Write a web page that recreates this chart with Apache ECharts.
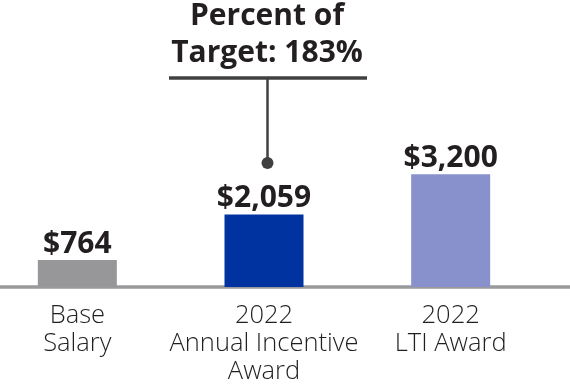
<!DOCTYPE html>
<html><head><meta charset="utf-8">
<script src="https://cdn.jsdelivr.net/npm/echarts@6/dist/echarts.min.js"></script>
<style>html,body{margin:0;padding:0;background:#fff}#c{width:570px;height:385px}</style>
</head><body><div id="c"></div>
<script>
var categories = ['Base\nSalary', '2022\nAnnual Incentive\nAward', '2022\nLTI Award'];
var values = [764, 2059, 3200];
var valueLabels = ['$764', '$2,059', '$3,200'];
var barColors = ['#97979a', '#0033a0', '#8891cc'];
var annotationLines = ['Percent of', 'Target: 183%'];

var chart = echarts.init(document.getElementById('c'));
var font = '"Open Sans", "Noto Sans", sans-serif';
chart.setOption({
  animation: false,
  grid: {left: -16, right: 26, top: 146, bottom: 98, outerBoundsMode: 'none', containLabel: false},
  xAxis: {
    type: 'category', data: categories,
    axisLine: {show: false}, axisTick: {show: false},
    axisLabel: {color: '#231f20', fontSize: 25.5, fontFamily: font, fontWeight: 300, lineHeight: 28, margin: 15, interval: 0}
  },
  yAxis: {type: 'value', min: 0, max: 4000, show: false, splitLine: {show: false}},
  series: [{
    type: 'bar', barWidth: 79,
    data: values.map(function (v, i) { return {value: v, itemStyle: {color: barColors[i]}}; }),
    label: {show: true, position: 'top', distance: 1, color: '#231f20', fontSize: 30, fontWeight: 'bold', fontFamily: font,
      formatter: function (p) { return valueLabels[p.dataIndex]; }}
  }]
});
var y0 = chart.convertToPixel({yAxisIndex: 0}, 0);
var xa = chart.convertToPixel({xAxisIndex: 0}, 1);
chart.setOption({
  graphic: [
    {type: 'line', shape: {x1: 0, y1: y0, x2: 570, y2: y0}, style: {stroke: '#9a9a9c', lineWidth: 3.5}, silent: true},
    {type: 'text', x: xa + 3, y: -2, style: {text: annotationLines.join('\n'), textAlign: 'center', fill: '#231f20', font: 'bold 30px ' + font, lineHeight: 37}},
    {type: 'line', shape: {x1: 169, y1: 78, x2: 367, y2: 78}, style: {stroke: '#404041', lineWidth: 3.5}},
    {type: 'line', shape: {x1: xa + 3.5, y1: 78, x2: xa + 3.5, y2: 163}, style: {stroke: '#404041', lineWidth: 2.5}},
    {type: 'circle', shape: {cx: xa + 3.5, cy: 163, r: 6}, style: {fill: '#404041'}}
  ]
});
</script></body></html>
